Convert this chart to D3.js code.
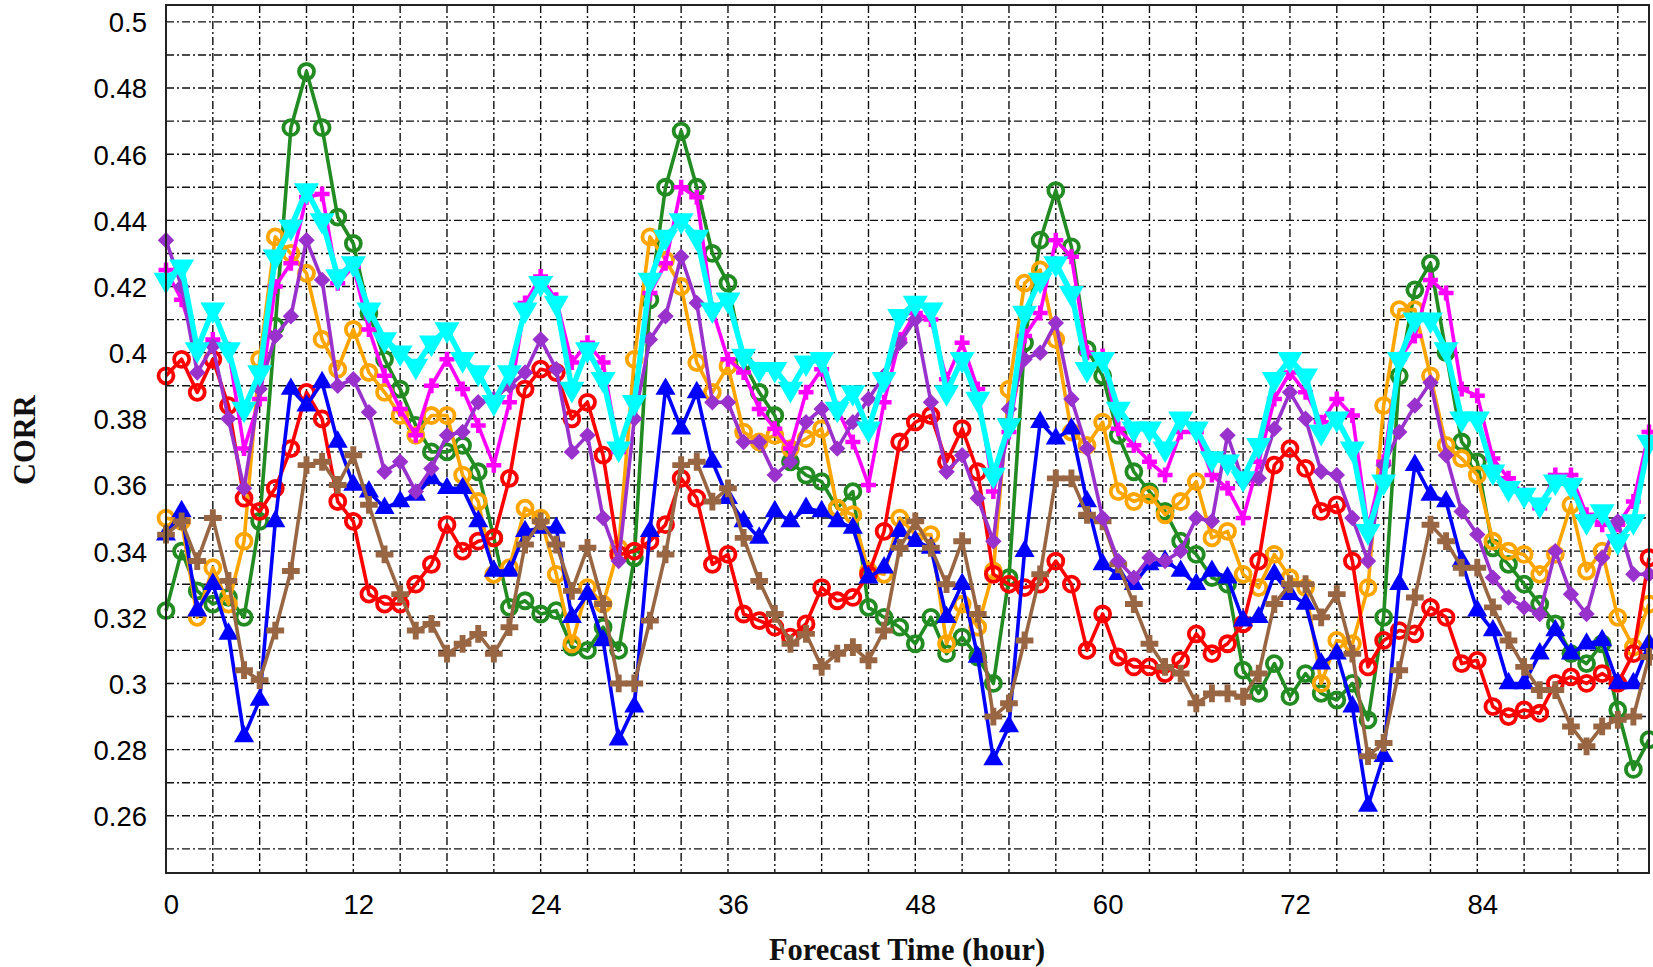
<!DOCTYPE html>
<html>
<head>
<meta charset="utf-8">
<script src="https://cdn.jsdelivr.net/npm/d3@7"></script>
<style>
  html, body { margin: 0; padding: 0; background: #fff; }
  svg { display: block; }
</style>
</head>
<body>
<svg id="chart" width="1653" height="967"></svg>
<script>
// ---------------- data ----------------
const hours = d3.range(0, 96);
const xTickLabels = [0, 12, 24, 36, 48, 60, 72, 84];
const yTickLabels = [0.26, 0.28, 0.30, 0.32, 0.34, 0.36, 0.38, 0.40, 0.42, 0.44, 0.46, 0.48, 0.50];

const greenCorr = [
  .322,.340,.328,.324,.326,.320,.349,.408,.468,.485,.468,.441,.433,
  .412,.398,.389,.378,.370,.370,.372,.364,.344,.323,.325,.321,
  .322,.311,.310,.317,.310,.338,.416,.450,.467,.450,.430,.421,
  .397,.388,.381,.367,.363,.361,.353,.358,.323,.320,.317,.312,.320,
  .309,.314,.308,.300,.332,.403,.434,.449,.432,.401,.393,.375,
  .364,.358,.352,.343,.339,.332,.330,.304,.297,.306,.296,.303,
  .297,.295,.300,.289,.320,.393,.419,.427,.400,.373,.367,.341,
  .336,.330,.324,.318,.309,.306,.312,.292,.274,.283];
const orangeCorr = [
  .350,.349,.320,.335,.324,.343,.398,.435,.430,.424,.404,.395,.407,
  .394,.388,.381,.375,.381,.381,.363,.355,.333,.335,.353,.350,
  .333,.312,.329,.324,.341,.398,.435,.428,.420,.397,.388,.396,
  .376,.373,.375,.371,.374,.377,.353,.351,.334,.333,.350,.345,.345,
  .312,.324,.317,.334,.389,.421,.425,.404,.376,.372,.379,.358,
  .355,.357,.351,.355,.361,.344,.346,.333,.329,.339,.332,.329,
  .300,.313,.312,.329,.384,.413,.413,.393,.372,.368,.363,.343,
  .340,.339,.333,.339,.354,.334,.340,.320,.311,.324];
const redCorr = [
  .393,.398,.388,.398,.384,.356,.352,.359,.371,.388,.380,.355,.349,
  .327,.324,.324,.330,.336,.348,.340,.343,.344,.362,.389,.395,
  .394,.380,.385,.369,.339,.340,.343,.348,.362,.356,.336,.339,
  .321,.319,.317,.314,.318,.329,.325,.326,.333,.346,.373,.379,.381,
  .367,.377,.364,.333,.330,.329,.330,.337,.330,.310,.321,.308,
  .305,.305,.303,.307,.315,.309,.312,.318,.337,.366,.371,.365,
  .352,.354,.337,.305,.313,.316,.315,.323,.320,.306,.307,.293,
  .290,.292,.291,.300,.302,.300,.303,.300,.309,.338];
const blueCorr = [
  .345,.352,.322,.330,.315,.284,.295,.349,.389,.384,.391,.373,.360,
  .358,.353,.355,.357,.362,.359,.359,.349,.334,.334,.346,.347,
  .347,.320,.327,.313,.283,.293,.346,.389,.377,.388,.367,.356,
  .349,.344,.352,.349,.353,.352,.349,.347,.332,.335,.346,.343,.341,
  .320,.330,.308,.277,.287,.340,.379,.374,.377,.355,.336,.333,
  .330,.336,.337,.334,.330,.334,.332,.319,.320,.333,.327,.324,
  .306,.309,.293,.263,.278,.330,.366,.357,.355,.337,.322,.316,
  .300,.300,.309,.316,.309,.312,.313,.300,.300,.312];
const brownCorr = [
  .345,.349,.337,.350,.331,.304,.301,.316,.334,.366,.367,.360,.369,
  .354,.339,.327,.316,.318,.309,.312,.315,.309,.317,.342,.349,
  .342,.328,.341,.324,.300,.300,.319,.339,.366,.367,.355,.359,
  .344,.331,.321,.312,.315,.305,.309,.311,.307,.316,.341,.349,.341,
  .330,.343,.321,.290,.294,.313,.333,.362,.362,.351,.349,.336,
  .324,.312,.305,.303,.294,.297,.297,.296,.303,.324,.330,.330,
  .320,.327,.309,.278,.282,.304,.326,.348,.343,.335,.335,.323,
  .313,.305,.298,.298,.287,.281,.287,.289,.290,.308];
const magentaCorr = [
  .425,.416,.401,.404,.401,.371,.386,.420,.427,.447,.448,.421,.426,
  .407,.393,.383,.375,.390,.398,.389,.378,.366,.385,.415,.423,
  .416,.397,.403,.397,.370,.385,.418,.427,.450,.447,.413,.398,
  .394,.383,.377,.371,.388,.395,.383,.373,.360,.385,.404,.412,.410,
  .392,.403,.389,.358,.376,.405,.412,.434,.429,.400,.399,.377,
  .372,.367,.363,.376,.376,.363,.359,.350,.367,.386,.394,.388,
  .379,.386,.381,.347,.367,.398,.405,.422,.418,.389,.387,.368,
  .362,.357,.353,.363,.363,.351,.348,.348,.355,.376];
const purpleCorr = [
  .434,.420,.394,.402,.380,.359,.389,.405,.411,.434,.422,.390,.392,
  .382,.364,.367,.358,.365,.375,.376,.385,.386,.390,.394,.404,
  .395,.370,.375,.350,.337,.380,.404,.411,.429,.415,.385,.385,
  .373,.373,.363,.367,.379,.383,.371,.379,.386,.393,.403,.410,.385,
  .364,.369,.356,.343,.383,.398,.400,.409,.386,.371,.350,.337,
  .332,.338,.337,.340,.350,.349,.375,.361,.362,.377,.388,.380,
  .364,.363,.350,.337,.366,.376,.384,.391,.369,.352,.345,.332,
  .326,.323,.321,.340,.327,.321,.338,.349,.333,.333];
const cyanCorr = [
  .422,.426,.401,.413,.401,.383,.394,.429,.438,.449,.440,.423,.427,
  .413,.404,.400,.396,.403,.407,.398,.394,.385,.394,.413,.421,
  .415,.389,.401,.392,.371,.385,.422,.435,.440,.435,.413,.416,
  .399,.395,.395,.389,.397,.398,.383,.388,.377,.392,.411,.415,.413,
  .388,.398,.386,.363,.378,.412,.422,.427,.418,.395,.398,.383,
  .377,.377,.371,.380,.377,.368,.367,.362,.372,.392,.398,.393,
  .376,.380,.371,.346,.361,.398,.410,.410,.401,.380,.380,.364,
  .359,.357,.354,.361,.360,.349,.352,.343,.349,.373];

(function () {
const seriesList = [
  { values: greenCorr,   color: "#228B22", marker: "circle",   width: 3.6 },
  { values: orangeCorr,  color: "#FFA500", marker: "circle",   width: 3.6 },
  { values: redCorr,     color: "#FF0000", marker: "circle",   width: 3.6 },
  { values: blueCorr,    color: "#0000FF", marker: "triUp",    width: 3.6 },
  { values: brownCorr,   color: "#996644", marker: "cross",    width: 3.6 },
  { values: magentaCorr, color: "#FF00FF", marker: "plus",     width: 3.6 },
  { values: purpleCorr,  color: "#9932CC", marker: "diamond",  width: 3.6 },
  { values: cyanCorr,    color: "#00FFFF", marker: "triDown",  width: 5.5 }
];

// ---------------- layout ----------------
const svg = d3.select("#chart");
const pLeft = 166, pRight = 1649, pTop = 5, pBottom = 873;

const x = d3.scaleLinear().domain([0, 95]).range([pLeft, pRight]);
const y = d3.scaleLinear().domain([0.2427, 0.5051]).range([pBottom, pTop]);

// grid
const grid = svg.append("g");
const dash = "8,3,2,3";
d3.range(3, 95, 3).forEach(h => {
  grid.append("line")
    .attr("x1", x(h)).attr("x2", x(h))
    .attr("y1", pTop).attr("y2", pBottom)
    .attr("stroke", "#111").attr("stroke-width", 1.4)
    .attr("stroke-dasharray", dash);
});
d3.range(25, 51).map(v => v / 100).forEach(v => {
  grid.append("line")
    .attr("x1", pLeft).attr("x2", pRight)
    .attr("y1", y(v)).attr("y2", y(v))
    .attr("stroke", "#111").attr("stroke-width", 1.4)
    .attr("stroke-dasharray", dash);
});

// axes (labels only; the frame is drawn separately)
const yAxis = d3.axisLeft(y).tickValues(yTickLabels)
  .tickFormat(d => String(+d.toFixed(2))).tickSize(0).tickPadding(19);
const gy = svg.append("g").attr("transform", `translate(${pLeft},0)`).call(yAxis);
gy.select(".domain").remove();
gy.selectAll("text")
  .attr("font-family", "'Liberation Sans', Arial, sans-serif")
  .attr("font-size", 27.5).attr("fill", "#000").attr("dy", "0.36em");

const xAxis = d3.axisBottom(x).tickValues(xTickLabels).tickSize(0).tickPadding(21);
const gx = svg.append("g").attr("transform", `translate(0,${pBottom})`).call(xAxis);
gx.select(".domain").remove();
gx.selectAll("text")
  .attr("font-family", "'Liberation Sans', Arial, sans-serif")
  .attr("font-size", 27.5).attr("fill", "#000").attr("dx", 5);

// series
const plot = svg.append("g");
const lineGen = d3.line().x((d, i) => x(hours[i])).y(d => y(d));

function drawMarker(g, type, color, cx, cy) {
  if (type === "circle") {
    g.append("circle").attr("cx", cx).attr("cy", cy).attr("r", 7.5)
      .attr("fill", "none").attr("stroke", color).attr("stroke-width", 3.8);
  } else if (type === "triUp") {
    g.append("path").attr("d", d3.symbol().type(d3.symbolTriangle).size(175)())
      .attr("transform", `translate(${cx},${cy})`).attr("fill", color);
  } else if (type === "triDown") {
    g.append("path").attr("d", d3.symbol().type(d3.symbolTriangle).size(270)())
      .attr("transform", `translate(${cx},${cy}) rotate(180)`).attr("fill", color);
  } else if (type === "cross") {
    g.append("path").attr("d", d3.symbol().type(d3.symbolCross).size(175)())
      .attr("transform", `translate(${cx},${cy})`).attr("fill", color);
  } else if (type === "plus") {
    g.append("path").attr("d", `M${cx - 7.5},${cy}H${cx + 7.5}M${cx},${cy - 7.5}V${cy + 7.5}`)
      .attr("stroke", color).attr("stroke-width", 4.5).attr("fill", "none");
  } else if (type === "diamond") {
    g.append("path").attr("d", d3.symbol().type(d3.symbolSquare).size(135)())
      .attr("transform", `translate(${cx},${cy}) rotate(45)`).attr("fill", color);
  }
}

seriesList.forEach(s => {
  const g = plot.append("g");
  g.append("path").datum(s.values)
    .attr("d", lineGen)
    .attr("fill", "none").attr("stroke", s.color)
    .attr("stroke-width", s.width).attr("stroke-linejoin", "round");
  s.values.forEach((v, i) => drawMarker(g, s.marker, s.color, x(hours[i]), y(v)));
});

// frame
svg.append("rect").attr("x", pLeft).attr("y", pTop)
  .attr("width", pRight - pLeft).attr("height", pBottom - pTop)
  .attr("fill", "none").attr("stroke", "#222").attr("stroke-width", 2);

// titles
svg.append("text")
  .attr("x", 907).attr("y", 960).attr("text-anchor", "middle")
  .attr("font-family", "'Liberation Serif', 'Times New Roman', serif")
  .attr("font-weight", "bold").attr("font-size", 30.5).attr("fill", "#111")
  .text("Forecast Time (hour)");
svg.append("text")
  .attr("transform", "translate(35,440) rotate(-90)").attr("text-anchor", "middle")
  .attr("font-family", "'Liberation Serif', 'Times New Roman', serif")
  .attr("font-weight", "bold").attr("font-size", 30.5).attr("fill", "#111")
  .text("CORR");
})();
</script>
</body>
</html>
